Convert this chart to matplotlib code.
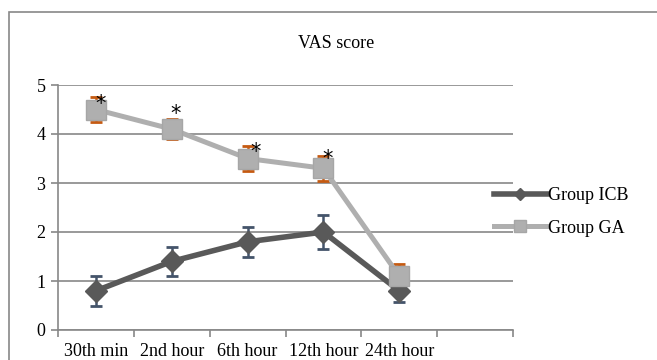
import matplotlib
matplotlib.use("Agg")
import matplotlib.pyplot as plt
from matplotlib.patches import Rectangle

plt.rcParams['font.family'] = ['Liberation Serif', 'DejaVu Serif']

categories = ["30th min", "2nd hour", "6th hour", "12th hour", "24th hour", ""]
icb = [0.8, 1.4, 1.8, 2.0, 0.8]
icb_err = [0.3, 0.3, 0.3, 0.35, 0.22]
ga = [4.5, 4.1, 3.5, 3.3, 1.1]
ga_err = [0.25, 0.2, 0.25, 0.25, 0.25]
signif = [True, True, True, True, False]
# star offsets (points) relative to the GA error-bar tops
star_off = [(3, -5), (3, 4), (6, -4), (3, -2)]

fig = plt.figure(figsize=(6.57, 3.6), dpi=100)
ax = fig.add_axes([58 / 657, 1 - 330 / 360, (513 - 58) / 657, (330 - 85) / 360])

# outer chart border (cropped at right/bottom)
fig.patches.append(Rectangle((9 / 657, -0.2), 1.2, 1 - 12 / 360 + 0.2,
                             transform=fig.transFigure, fill=False,
                             edgecolor='#888888', lw=1.2))

x = list(range(len(icb)))
ax.errorbar(x, icb, yerr=icb_err, fmt='none', ecolor='#44546A',
            elinewidth=1.8, capsize=4.3, capthick=2, zorder=2)
ax.errorbar(x, ga, yerr=ga_err, fmt='none', ecolor='#C55A11',
            elinewidth=1.8, capsize=4.3, capthick=2, zorder=2)
ax.plot(x, icb, color='#595959', lw=4, marker='D', ms=11,
        label='Group ICB', zorder=3)
ax.plot(x, ga, color='#AFAFAF', lw=3.6, marker='s', ms=14,
        mec='#A6A6A6', label='Group GA', zorder=4)

k = 0
for i, s in enumerate(signif):
    if s:
        ax.annotate('*', (x[i], ga[i] + ga_err[i]), xytext=star_off[k],
                    textcoords='offset points', ha='center', va='center',
                    fontsize=15, family='DejaVu Sans', zorder=5)
        k += 1

ax.set_xlim(-0.5, len(categories) - 0.5)
ax.set_ylim(0, 5)
ax.set_yticks(range(6))
ax.yaxis.grid(True, color='#888888', lw=1.2)
ax.set_axisbelow(True)

ax.set_xticks([i - 0.5 for i in range(len(categories) + 1)])
ax.set_xticklabels([])
ax.set_xticks(range(len(categories)), minor=True)
ax.set_xticklabels(categories, minor=True)
ax.tick_params(axis='x', which='major', length=5, color='#888888', width=1.2)
ax.tick_params(axis='x', which='minor', length=0, pad=9, labelsize=13)
ax.tick_params(axis='y', length=5, color='#888888', width=1.2, labelsize=13, pad=4)

for side in ['top', 'right']:
    ax.spines[side].set_visible(False)
for side in ['left', 'bottom']:
    ax.spines[side].set_color('#888888')
    ax.spines[side].set_linewidth(1.2)

fig.text(336 / 657, 1 - 43 / 360, 'VAS score', ha='center', va='center', fontsize=13)

leg = fig.legend(loc='center left', bbox_to_anchor=(478 / 657, 1 - 212 / 360),
                 frameon=False, fontsize=13, markerscale=0.6,
                 handlelength=2.9, handletextpad=0.1, labelspacing=0.85)

fig.savefig('out.png', dpi=100)
